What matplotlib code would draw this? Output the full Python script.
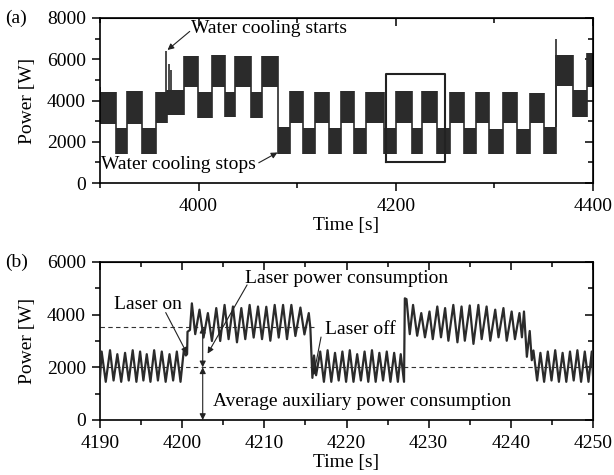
import matplotlib
matplotlib.use("Agg")
import matplotlib.pyplot as plt
from matplotlib.ticker import MultipleLocator, NullFormatter

plt.rcParams['font.family'] = ['Liberation Serif', 'DejaVu Serif']
plt.rcParams['font.size'] = 14

# ---------------- Panel (a): envelope of the dense power signal ----------------
# each block: start time [s], lower and upper envelope [W] (block ends at next start)
a_start = [3900, 3915.9, 3927.8, 3942.5, 3956.7, 3967.5, 3985.3, 3999.2, 4013.1,
           4027.0, 4036.9, 4052.8, 4064.7, 4080.6, 4092.5, 4106.3, 4118.3, 4132.1,
           4144.0, 4157.9, 4169.8, 4188.0, 4200.5, 4216.0, 4227.0, 4242.0, 4255.2,
           4269.0, 4281.0, 4294.8, 4308.7, 4322.6, 4336.5, 4350.4, 4362.3, 4380.2,
           4394.0, 4400.0]
a_low = [2850, 1400, 2850, 1400, 2900, 3300, 4650, 3150, 4650,
         3200, 4650, 3150, 4650, 1400, 2900, 1400, 2900, 1400,
         2900, 1400, 2900, 1400, 2900, 1400, 2900, 1400, 2900,
         1400, 2900, 1400, 2900, 1400, 2900, 1400, 4700, 3200,
         4650, 4650]
a_high = [4400, 2650, 4450, 2650, 4400, 4500, 6150, 4400, 6200,
          4400, 6150, 4400, 6150, 2700, 4450, 2650, 4400, 2650,
          4450, 2650, 4400, 2650, 4450, 2650, 4450, 2650, 4400,
          2650, 4400, 2600, 4400, 2600, 4350, 2700, 6200, 4500,
          6300, 6300]
# isolated spikes: time, low, high
spike_t = [3900.5, 3967.0, 3969.5, 3972.0, 4362.5]
spike_lo = [2900, 2900, 3300, 3300, 2700]
spike_hi = [4650, 6420, 5750, 5500, 6980]
zoom_box = [4190, 4250, 1020, 5290]

# ---------------- Panel (b): detail 4190-4250 s (peaks / troughs) ----------------
b_time = [4190.00, 4190.20, 4190.70, 4191.22, 4191.65, 4192.11, 4192.58, 4193.05, 4193.50,
          4193.98, 4194.43, 4194.88, 4195.28, 4195.69, 4196.14, 4196.59, 4197.05, 4197.52,
          4197.99, 4198.46, 4198.90, 4199.35, 4199.80, 4200.20, 4200.45, 4200.60, 4200.65,
          4200.95, 4201.18, 4201.59, 4202.11, 4202.60, 4203.13, 4203.62, 4204.15, 4204.63,
          4205.16, 4205.65, 4206.18, 4206.67, 4207.20, 4207.68, 4208.21, 4208.70, 4209.23,
          4209.72, 4210.24, 4210.73, 4211.26, 4211.75, 4212.28, 4212.76, 4213.29, 4213.78,
          4214.39, 4214.88, 4215.41, 4215.60, 4215.85, 4216.05, 4216.30, 4216.80, 4217.25,
          4217.70, 4218.15, 4218.60, 4219.05, 4219.50, 4219.95, 4220.40, 4220.85, 4221.30,
          4221.75, 4222.20, 4222.65, 4223.10, 4223.55, 4224.00, 4224.45, 4224.90, 4225.35,
          4225.80, 4226.25, 4226.60, 4227.00, 4227.10, 4227.30, 4227.70, 4228.10, 4228.60,
          4229.10, 4229.55, 4230.10, 4230.50, 4231.05, 4231.50, 4232.00, 4232.40, 4233.00,
          4233.50, 4234.00, 4234.40, 4235.00, 4235.45, 4236.05, 4236.45, 4237.05, 4237.50,
          4238.10, 4238.50, 4239.10, 4239.50, 4240.10, 4240.50, 4241.05, 4241.35, 4241.60,
          4241.95, 4242.30, 4242.55, 4242.75, 4243.20, 4243.60, 4244.05, 4244.50, 4244.95,
          4245.40, 4245.85, 4246.30, 4246.75, 4247.20, 4247.65, 4248.10, 4248.55, 4249.00,
          4249.45, 4249.85, 4250.00]
b_power = [1600, 2600, 1450, 2650, 1500, 2500, 1450, 2550, 1500,
           2650, 1450, 2600, 1500, 2500, 1450, 2650, 1500, 2600,
           1450, 2500, 1500, 2600, 1450, 2650, 2450, 2500, 3350,
           3420, 4430, 3260, 4190, 3130, 4060, 3000, 4250, 3000,
           4370, 3070, 4310, 2950, 4250, 3070, 4370, 3130, 4310,
           3070, 4300, 3010, 4370, 3130, 4370, 3070, 4370, 3190,
           4270, 3250, 4060, 3500, 1600, 2450, 1700, 2600, 1450,
           2650, 1450, 2550, 1500, 2600, 1450, 2650, 1450, 2500,
           1500, 2600, 1450, 2650, 1450, 2550, 1500, 2600, 1450,
           2550, 1450, 2500, 1450, 4620, 4590, 3260, 4370, 3200,
           4060, 3140, 4120, 3070, 4310, 3140, 4250, 3010, 4370,
           2950, 4310, 3010, 4350, 2890, 4370, 3070, 4310, 3010,
           4190, 3140, 4250, 3010, 4120, 3070, 4060, 3140, 4120,
           2400, 3380, 2270, 2640, 1500, 2550, 1450, 2600, 1500,
           2650, 1450, 2550, 1450, 2600, 1500, 2650, 1450, 2600,
           1450, 2600, 1700]
laser_level = 3540
aux_level = 2000

ink = '#2b2b2b'

fig = plt.figure(figsize=(6.14, 4.75), dpi=100)
ax1 = fig.add_axes([100/614, 1-183/475, 493/614, 165/475])
ax2 = fig.add_axes([100/614, 1-420/475, 493/614, 158/475])


def style(ax, xmaj, xmin, ymaj, ymin):
    for s in ax.spines.values():
        s.set_linewidth(1.2)
    ax.xaxis.set_major_locator(MultipleLocator(xmaj))
    ax.xaxis.set_minor_locator(MultipleLocator(xmin))
    ax.yaxis.set_major_locator(MultipleLocator(ymaj))
    ax.yaxis.set_minor_locator(MultipleLocator(ymin))
    ax.tick_params(which='both', direction='out', top=False, right=False, width=1.1)
    ax.tick_params(axis='x', which='major', length=6, pad=5)
    ax.tick_params(axis='y', which='major', length=6, pad=4)
    ax.tick_params(which='minor', length=3.5)
    sx = ax.secondary_xaxis('top')
    sx.xaxis.set_major_locator(MultipleLocator(xmaj))
    sx.xaxis.set_minor_locator(MultipleLocator(xmin))
    sx.tick_params(which='both', direction='in', labeltop=False, width=1.1)
    sx.tick_params(which='major', length=6)
    sx.tick_params(which='minor', length=3.5)
    sx.xaxis.set_major_formatter(NullFormatter())
    sy = ax.secondary_yaxis('right')
    sy.yaxis.set_major_locator(MultipleLocator(ymaj))
    sy.yaxis.set_minor_locator(MultipleLocator(ymin))
    sy.tick_params(which='both', direction='in', labelright=False, width=1.1)
    sy.tick_params(which='major', length=6)
    sy.tick_params(which='minor', length=3.5)
    sy.yaxis.set_major_formatter(NullFormatter())


# ---- panel (a)
ax1.fill_between(a_start, a_low, a_high, step='post', color=ink, lw=0)
# vertical connecting strokes at each block change
for i in range(1, len(a_start) - 1):
    ax1.vlines(a_start[i], min(a_low[i - 1], a_low[i]), max(a_high[i - 1], a_high[i]),
               color=ink, lw=1.2)
ax1.vlines(spike_t, spike_lo, spike_hi, color=ink, lw=1.2)
ax1.plot([zoom_box[0], zoom_box[1], zoom_box[1], zoom_box[0], zoom_box[0]],
         [zoom_box[2], zoom_box[2], zoom_box[3], zoom_box[3], zoom_box[2]],
         color='#222222', lw=1.5)
ax1.set_xlim(3900, 4400)
ax1.set_ylim(0, 8000)
style(ax1, 200, 100, 2000, 1000)
ax1.set_xlabel('Time [s]', labelpad=1)
ax1.set_ylabel('Power [W]', labelpad=8)
arr = dict(arrowstyle='-|>', lw=0.8, color='#222222', mutation_scale=9,
           shrinkA=0, shrinkB=0)
ax1.text(3992, 7480, 'Water cooling starts', ha='left', va='center')
ax1.annotate('', xy=(3968.5, 6450), xytext=(3991, 7350), arrowprops=arr)
ax1.text(3901, 880, 'Water cooling stops', ha='left', va='center')
ax1.annotate('', xy=(4080, 1480), xytext=(4061, 980), arrowprops=arr)

# ---- panel (b)
ax2.hlines(laser_level, 4190, 4216, colors='#333333', linestyles=(0, (4, 3)), lw=0.8, zorder=1)
ax2.hlines(aux_level, 4190, 4250, colors='#333333', linestyles=(0, (4, 3)), lw=0.8, zorder=1)
darr = dict(arrowstyle='<|-|>', lw=0.8, color='#222222', mutation_scale=9,
            shrinkA=0, shrinkB=0)
ax2.annotate('', xy=(4202.5, aux_level), xytext=(4202.5, laser_level), arrowprops=darr, zorder=1)
ax2.annotate('', xy=(4202.5, 0), xytext=(4202.5, aux_level), arrowprops=darr, zorder=1)
ax2.plot(b_time, b_power, color=ink, lw=1.6, zorder=3)
ax2.set_xlim(4190, 4250)
ax2.set_ylim(0, 6000)
style(ax2, 10, 5, 2000, 1000)
ax2.set_xlabel('Time [s]', labelpad=1)
ax2.set_ylabel('Power [W]', labelpad=8)

ax2.text(4191.7, 4380, 'Laser on', ha='left', va='center')
ax2.annotate('', xy=(4200.6, 2520), xytext=(4198.0, 4080), arrowprops=arr)
ax2.text(4207.6, 5380, 'Laser power consumption', ha='left', va='center')
ax2.annotate('', xy=(4203.1, 2520), xytext=(4207.9, 5130), arrowprops=arr)
ax2.text(4217.4, 3450, 'Laser off', ha='left', va='center')
ax2.annotate('', xy=(4216.0, 1700), xytext=(4216.9, 3150), arrowprops=arr)
ax2.text(4203.8, 720, 'Average auxiliary power consumption', ha='left', va='center')

fig.text(5/614, 1-18/475, '(a)', ha='left', va='center')
fig.text(5/614, 1-262/475, '(b)', ha='left', va='center')

fig.savefig('out.png', dpi=100)
